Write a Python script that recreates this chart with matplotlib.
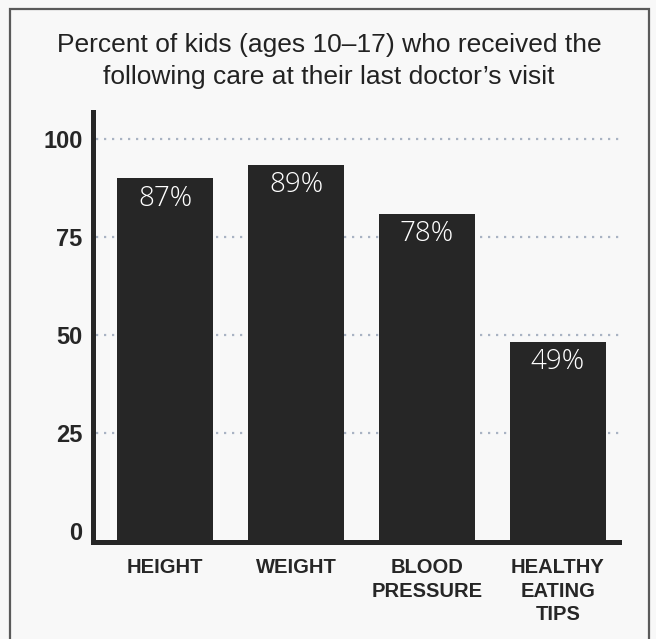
import matplotlib.pyplot as plt
from matplotlib.patches import Rectangle

categories = ["HEIGHT", "WEIGHT", "BLOOD\nPRESSURE", "HEALTHY\nEATING\nTIPS"]
bar_heights = [90, 93.4, 81, 48.3]   # heights as drawn in the picture
value_labels = ["87%", "89%", "78%", "49%"]
yticks = [0, 25, 50, 75, 100]

title = "Percent of kids (ages 10\u201317) who received the\nfollowing care at their last doctor\u2019s visit"

W, H = 656, 639
fig = plt.figure(figsize=(W / 100, H / 100), dpi=100, facecolor="#f8f8f8")

# outer frame
fig.patches.append(Rectangle((10 / W, -0.05), 639 / W, 1.05 - 9 / H, transform=fig.transFigure,
                             fill=False, edgecolor="#5a5a5a", linewidth=1.6))

fig.text(329 / W, 1 - 61 / H, title, ha="center", va="center", fontsize=19,
         family="Liberation Sans", color="#222222", linespacing=1.4)

ax = fig.add_axes([93.5 / W, 1 - 541.5 / H, (619 - 93.5) / W, (541.5 - 112) / H])
ax.set_facecolor("#f8f8f8")
ymin, ymax = -2.68, 106.9
ax.set_ylim(ymin, ymax)
ax.set_xlim(-0.546, 3.466)

x = list(range(len(categories)))
for y in yticks[1:]:
    ax.plot([-0.53, 3.466], [y, y], linestyle=(0, (1, 2.6)), color="#a9b3c3", linewidth=1.6, zorder=1)

ax.bar(x, [h - ymin for h in bar_heights], bottom=ymin, width=0.733, color="#262626", zorder=2)

for xi, h, lab in zip(x, bar_heights, value_labels):
    ax.text(xi, h - 1.6, lab, ha="center", va="top", color="white", fontsize=20,
            family="Open Sans", fontweight="light", zorder=3)

for side in ["top", "right"]:
    ax.spines[side].set_visible(False)
for side in ["left", "bottom"]:
    ax.spines[side].set_linewidth(3.6)
    ax.spines[side].set_color("#262626")
    ax.spines[side].set_zorder(4)

ax.set_yticks(yticks)
ax.set_yticklabels([str(t) for t in yticks], fontsize=17, fontweight="bold",
                   family="Liberation Sans", color="#262626")
ax.set_xticks(x)
ax.set_xticklabels(categories, fontsize=14.5, fontweight="bold", family="Liberation Sans",
                   color="#262626", linespacing=1.3, va="top")
ax.tick_params(axis="both", length=0)
ax.tick_params(axis="y", pad=8)
ax.tick_params(axis="x", pad=12)

fig.savefig("out.png", dpi=100, facecolor=fig.get_facecolor())
